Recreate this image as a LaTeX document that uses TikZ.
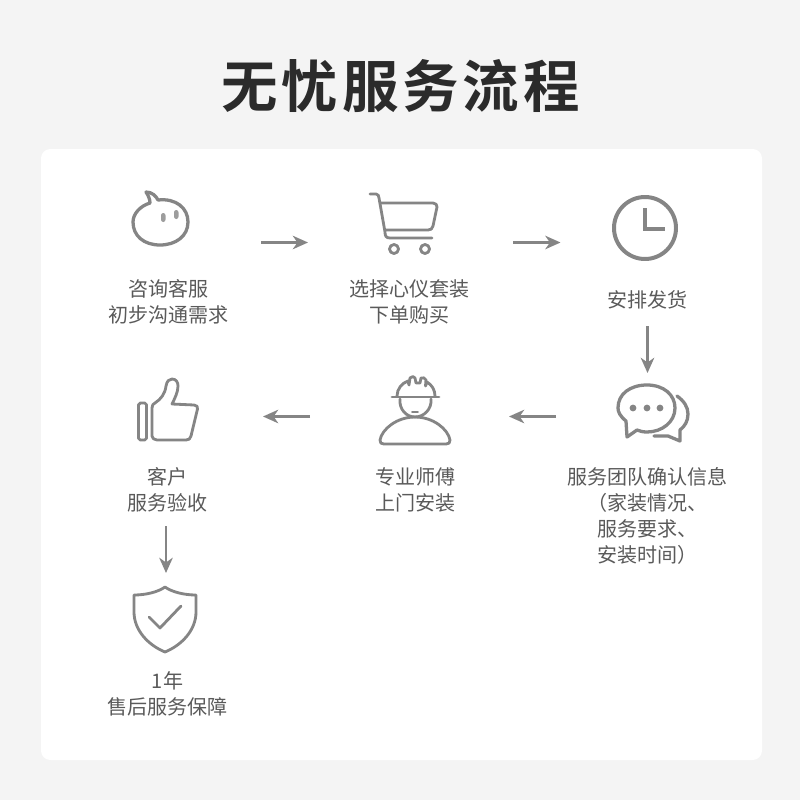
\documentclass[tikz,border=0pt]{standalone}
\usepackage{fontspec}
\usepackage{xcolor}
\usetikzlibrary{arrows.meta}
\setmainfont{Noto Sans CJK SC}
\newfontfamily\titlefont[LetterSpace=7,BoldFont={Noto Sans CJK SC Bold}]{Noto Sans CJK SC}
\definecolor{pagegray}{HTML}{F4F4F4}
\definecolor{icongray}{HTML}{858585}
\definecolor{labelgray}{HTML}{5A5A5A}
\definecolor{titleink}{HTML}{2B2B2B}
\tikzset{
    icon/.style={draw=icongray, line width=2.8pt, line cap=round, line join=round},
    thinicon/.style={icon, line width=2.4pt},
    steplabel/.style={align=center, text=labelgray, inner sep=0pt, font=\fontsize{17.1}{22.2}\selectfont},
    flowarrow/.style={draw=icongray, line width=2.1pt, -{Stealth[length=13pt,width=11.5pt,inset=4pt]}}
}

\begin{document}
\begin{tikzpicture}[x=0.3mm,y=-0.3mm]
    \useasboundingbox (0,0) rectangle (800,800);
    \fill[pagegray] (0,0) rectangle (800,800);
    \fill[white, rounded corners=8pt] (41,149) rectangle (762,760);
    \node (title) at (400.5,86) {\titlefont\bfseries\fontsize{48.2}{50}\selectfont\textcolor{titleink}{无忧服务流程}};

    % bubble
    \draw[icon] (146,192) .. controls (152,192) and (156,196) .. (158,200) .. controls (176,198) and (188,208) .. (188,222)
        .. controls (188,236) and (176,245) .. (160,245) .. controls (144,245) and (133,236) .. (133,222)
        .. controls (133,214) and (140,206) .. (150,203) .. controls (150,199) and (148,195) .. (146,192) -- cycle;
    \fill[icongray!80, rounded corners=2pt] (161,213) rectangle (165.5,222);
    \fill[icongray!80, rounded corners=2pt] (174,210) rectangle (178.5,219);

    % cart
    \draw[thinicon] (370,194) -- (376,194) .. controls (378,194) and (379,196) .. (379,198) -- (385,232) .. controls (385,236) and (386,238) .. (390,238) -- (432,238);
    \draw[thinicon] (380,203) -- (433,203) .. controls (436,203) and (437,205) .. (437,207) -- (433,226) .. controls (432,229) and (431,230) .. (428,230) -- (385,230);
    \draw[thinicon] (394,249) circle (4.5);
    \draw[thinicon] (425,249) circle (4.5);

    % clock
    \draw[icon, line width=3.4pt] (645,228) circle (31);
    \draw[icon, line width=3.6pt, line cap=butt, line join=miter] (645,208) -- (645,229) -- (665,229);

    % speech bubbles
    \draw[icon] (626,421) .. controls (620,416) and (618,412) .. (618,408) .. controls (618,394) and (630,385) .. (647,385)
        .. controls (664,385) and (675,395) .. (675,408) .. controls (675,422) and (662,432) .. (647,432)
        .. controls (642,432) and (640,431) .. (637,430) -- (627,437) -- cycle;
    \foreach \x in {633,647,660} \fill[icongray] (\x,408) circle (3.4);
    \draw[icon] (677,396) .. controls (684,401) and (688,407) .. (688,414) .. controls (688,421) and (685,426) .. (680,430) -- (680,441) -- (668,436) -- (654,436);

    % thumb
    \draw[thinicon, rounded corners=1.5pt] (138.5,403) rectangle (146.5,440);
    \draw[thinicon] (152,408) .. controls (152,405) and (153,404) .. (155,403) .. controls (161,399) and (165,394) .. (166,386)
        .. controls (167,381) and (169,379) .. (172,379) .. controls (176,379) and (178,382) .. (178,386) .. controls (178,392) and (175,398) .. (172,404)
        -- (194,405) .. controls (197,405) and (198,407) .. (197.5,409) -- (191,436) .. controls (190,439) and (189,440) .. (186,440)
        -- (157,440) .. controls (154,440) and (152,438) .. (152,436) -- cycle;

    % worker
    \draw[thinicon] (392,397) -- (439,397);
    \draw[thinicon] (397,396) .. controls (397,389) and (402,383) .. (408,381) -- (409,385) -- (410,378) .. controls (412,376) and (414,376) .. (415,378) -- (416,383) -- (420,383) -- (421,378) .. controls (423,377) and (425,378) .. (426,380) -- (425.5,386) -- (427,382) .. controls (432,385) and (435,390) .. (435,396);
    \draw[thinicon] (400,399) .. controls (399,409) and (406,417) .. (415,417) .. controls (424,417) and (432,409) .. (431,399);
    \draw[thinicon, line width=1.6pt] (412,412) -- (418,412);
    \draw[thinicon] (415,417) .. controls (397,417) and (382,429) .. (380,440) .. controls (380,443) and (381,444) .. (384,444)
        -- (446,444) .. controls (449,444) and (450,443) .. (450,440) .. controls (448,429) and (433,417) .. (415,417) -- cycle;

    % shield
    \draw[thinicon] (165,587) .. controls (158,592) and (146,595) .. (134,595) -- (134,612) .. controls (134,630) and (148,645) .. (165,652)
        .. controls (182,645) and (196,630) .. (196,612) -- (196,595) .. controls (184,595) and (172,592) .. (165,587) -- cycle;
    \draw[thinicon] (149,617) -- (160,628) -- (181,606);

    \node[steplabel] (ask) at (168.5,302) {咨询客服\\初步沟通需求};
    \node[steplabel] (choose) at (409.5,302) {选择心仪套装\\下单购买};
    \node[steplabel] (ship) at (647.5,300) {安排发货};
    \node[steplabel] (confirm) at (647.5,516) {服务团队确认信息\\（家装情况、\\服务要求、\\安装时间）};
    \node[steplabel] (install) at (415.5,490) {专业师傅\\上门安装};
    \node[steplabel] (accept) at (167.5,490) {客户\\服务验收};
    \node[steplabel] (warranty) at (167.5,694) {1年\\售后服务保障};

    \coordinate (a1) at (261,242.5); \coordinate (b1) at (308,242.5);
    \coordinate (a2) at (513,242.5); \coordinate (b2) at (560.5,242.5);
    \coordinate (a3) at (647.5,326); \coordinate (b3) at (647.5,373);
    \coordinate (a4) at (556,416.5); \coordinate (b4) at (509,416.5);
    \coordinate (a5) at (310,416.5); \coordinate (b5) at (263,416.5);
    \coordinate (a6) at (166,526); \coordinate (b6) at (166,573);
    \foreach \i in {1,...,6} \draw[flowarrow] (a\i) -- (b\i);
\end{tikzpicture}
\end{document}
